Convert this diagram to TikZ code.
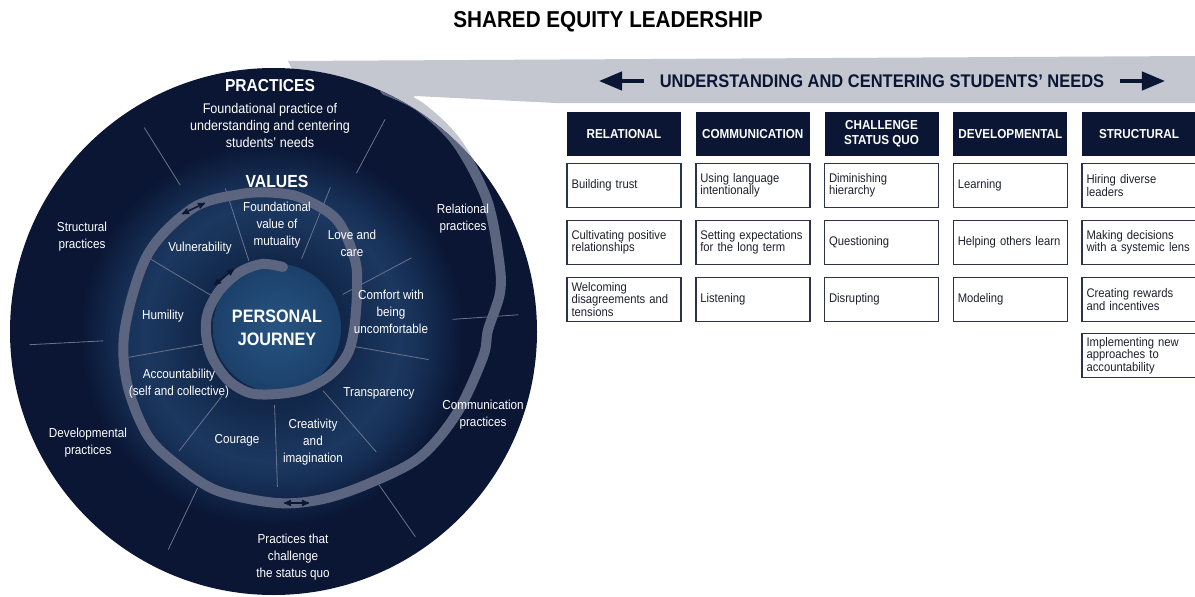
\documentclass[tikz,border=0pt]{standalone}
\usepackage{fontspec}
\setmainfont{Liberation Sans}[FakeStretch=0.9]
\usetikzlibrary{arrows,shapes}

\definecolor{navy}{RGB}{10,22,52}
\definecolor{bannergrey}{RGB}{196,199,207}
\definecolor{bandgrey}{RGB}{92,101,128}
\definecolor{divgrey}{RGB}{105,115,140}
\definecolor{valA}{RGB}{17,38,72}
\definecolor{valB}{RGB}{28,56,96}
\definecolor{valC}{RGB}{22,46,84}
\definecolor{pjin}{RGB}{40,84,130}
\definecolor{pjout}{RGB}{27,64,106}
\definecolor{boxline}{RGB}{44,50,72}
\definecolor{itemtext}{RGB}{30,32,45}

\pgfdeclareradialshading{valglow}{\pgfpoint{0bp}{0bp}}{color(0bp)=(valA); color(8.5bp)=(valA); color(16bp)=(valB); color(19bp)=(valC); color(24bp)=(navy); color(25bp)=(navy); color(50bp)=(navy)}

\begin{document}
\begin{tikzpicture}
  [x=1pt,y=-1pt,>=stealth',node distance=128.75pt,
   circtext/.style={text=white,align=center,font=\fontsize{13}{17}\selectfont},
   headbox/.style={fill=navy,text=white,minimum width=114pt,minimum height=44pt,align=center,inner sep=0pt,font=\bfseries\fontsize{13}{15}\selectfont},
   cellbox/.style={draw=boxline,line width=1.5pt,fill=white,text=itemtext,minimum width=114pt,minimum height=44pt,text width=105pt,inner xsep=4.5pt,align=left,font=\fontsize{12.5}{12.5}\selectfont},
   divline/.style={draw=divgrey,line width=0.8pt},
   band/.style={line width=10pt,line cap=round},
   tinyarrow/.style={<->,draw=navy,line width=1.5pt},
   bigarrow/.style={-triangle 45,draw=navy,line width=4.5pt}]

  \useasboundingbox[fill=white] (0,0) rectangle (1195,597);

  \node (title) at (608,22) [font=\bfseries\fontsize{23}{23}\selectfont] {SHARED EQUITY LEADERSHIP};

  \fill[bannergrey] (288,61) -- (1195,56) -- (1195,103) -- (556,103) -- (415,96) -- (330,150) -- cycle;
  \node (needs) at (882,81) [text=navy,font=\bfseries\fontsize{18.3}{18.3}\selectfont] {UNDERSTANDING AND CENTERING STUDENTS’ NEEDS};
  \draw[bigarrow] ([xshift=-12pt]needs.west) -- ++(-45,0);
  \draw[bigarrow] ([xshift=12pt]needs.east) -- ++(45,0);

  \path[save path=\spiralpath] plot[smooth,tension=0.55] coordinates {
    (283,267) (262,264) (240,272) (220,290) (208,312) (206,333) (212,357) (228,380)
    (250,393) (277,394) (305,389) (330,375) (347,355) (354,330) (357,291) (355,260)
    (337,220) (304,199) (277,193) (241,194) (193,208) (148,254) (125,328) (127,383)
    (148,436) (180,467) (218,491) (277,503) (323,499) (370,483) (420,457) (457,413)
    (483,357) (488,330) (500,293) (499,260) (487,200) (457,143) (420,107) (385,90)};
  \draw[band,draw=bannergrey,use path=\spiralpath];

  \fill[navy] (273.5,331.5) circle (263.5);
  \shade[shading=valglow] (272,334) circle (200);

  \begin{scope}[shift={(272,332)},yscale=-1]
    \foreach \a/\ra/\rb in {28/80/158,68/79/156,108/75/151,149/70/148,190/69/146,232/81/151,272/73/155,311/78/159,350/80/159}
      \draw[divline] (\a:\ra) -- (\a:\rb);
    \foreach \a/\ra/\rb in {4/181/247,62/180/241,122/173/241,183/169/243,244.5/173/241,305/181/250}
      \draw[divline] (\a:\ra) -- (\a:\rb);
  \end{scope}

  \node (pj) at (277,328) [circle,minimum size=128pt,inner color=pjin,outer color=pjout,text=white,align=center,font=\bfseries\fontsize{18}{23.5}\selectfont] {PERSONAL\\JOURNEY};

  \begin{scope}
    \clip (273.5,331.5) circle (263.5);
    \draw[band,draw=bandgrey,use path=\spiralpath];
  \end{scope}

  \coordinate (a1s) at (214,285);
  \coordinate (a1e) at (234,269);
  \coordinate (a2s) at (182,214);
  \coordinate (a2e) at (205,203);
  \coordinate (a3s) at (284,503);
  \coordinate (a3e) at (309,503);
  \draw[tinyarrow] (a1s) -- (a1e);
  \draw[tinyarrow] (a2s) -- (a2e);
  \draw[tinyarrow] (a3s) -- (a3e);

  \node (prac) at (270,86) [text=white,font=\bfseries\fontsize{17.3}{17.3}\selectfont] {PRACTICES};
  \node (pracfound) at (270,125) [circtext,font=\fontsize{14}{17}\selectfont] {Foundational practice of\\understanding and centering\\students’ needs};
  \node (values) at (277,181) [text=white,font=\bfseries\fontsize{17.5}{17.5}\selectfont] {VALUES};
  \node (mutual) at (277,225) [circtext] {Foundational\\value of\\mutuality};
  \node (love) at (352,243.5) [circtext] {Love and\\care};
  \node (vuln) at (200,248) [circtext] {Vulnerability};
  \node (humil) at (163,316) [circtext] {Humility};
  \node (comfort) at (391,312) [circtext] {Comfort with\\being\\uncomfortable};
  \node (account) at (179,383.5) [circtext] {Accountability\\(self and collective)};
  \node (courage) at (237,440) [circtext] {Courage};
  \node (creat) at (313,442) [circtext] {Creativity\\and\\imagination};
  \node (transp) at (379,393) [circtext] {Transparency};
  \node (structp) at (82,236.5) [circtext] {Structural\\practices};
  \node (relp) at (463,219) [circtext] {Relational\\practices};
  \node (commp) at (483,415) [circtext] {Communication\\practices};
  \node (devp) at (88,442.5) [circtext] {Developmental\\practices};
  \node (challp) at (293,557.5) [circtext] {Practices that\\challenge\\the status quo};

  \node (rel) at (624,134) [headbox] {RELATIONAL};
  \node (com) [headbox,right of=rel] {COMMUNICATION};
  \node (chq) [headbox,right of=com] {CHALLENGE\\STATUS QUO};
  \node (dev) [headbox,right of=chq] {DEVELOPMENTAL};
  \node (str) [headbox,right of=dev] {STRUCTURAL};

  \node (rel1) [cellbox,node distance=51.5pt,below of=rel] {Building trust};
  \node (rel2) [cellbox,node distance=57pt,below of=rel1] {Cultivating positive\\relationships};
  \node (rel3) [cellbox,node distance=57pt,below of=rel2] {Welcoming\\disagreements and\\tensions};

  \node (com1) [cellbox,node distance=51.5pt,below of=com] {Using language\\intentionally};
  \node (com2) [cellbox,node distance=57pt,below of=com1] {Setting expectations\\for the long term};
  \node (com3) [cellbox,node distance=57pt,below of=com2] {Listening};

  \node (chq1) [cellbox,node distance=51.5pt,below of=chq] {Diminishing\\hierarchy};
  \node (chq2) [cellbox,node distance=57pt,below of=chq1] {Questioning};
  \node (chq3) [cellbox,node distance=57pt,below of=chq2] {Disrupting};

  \node (dev1) [cellbox,node distance=51.5pt,below of=dev] {Learning};
  \node (dev2) [cellbox,node distance=57pt,below of=dev1] {Helping others learn};
  \node (dev3) [cellbox,node distance=57pt,below of=dev2] {Modeling};

  \node (str1) [cellbox,node distance=51.5pt,below of=str] {Hiring diverse\\leaders};
  \node (str2) [cellbox,node distance=57pt,below of=str1] {Making decisions\\with a systemic lens};
  \node (str3) [cellbox,node distance=57pt,below of=str2] {Creating rewards\\and incentives};
  \node (str4) [cellbox,node distance=56pt,below of=str3] {Implementing new\\approaches to\\accountability};
\end{tikzpicture}
\end{document}
